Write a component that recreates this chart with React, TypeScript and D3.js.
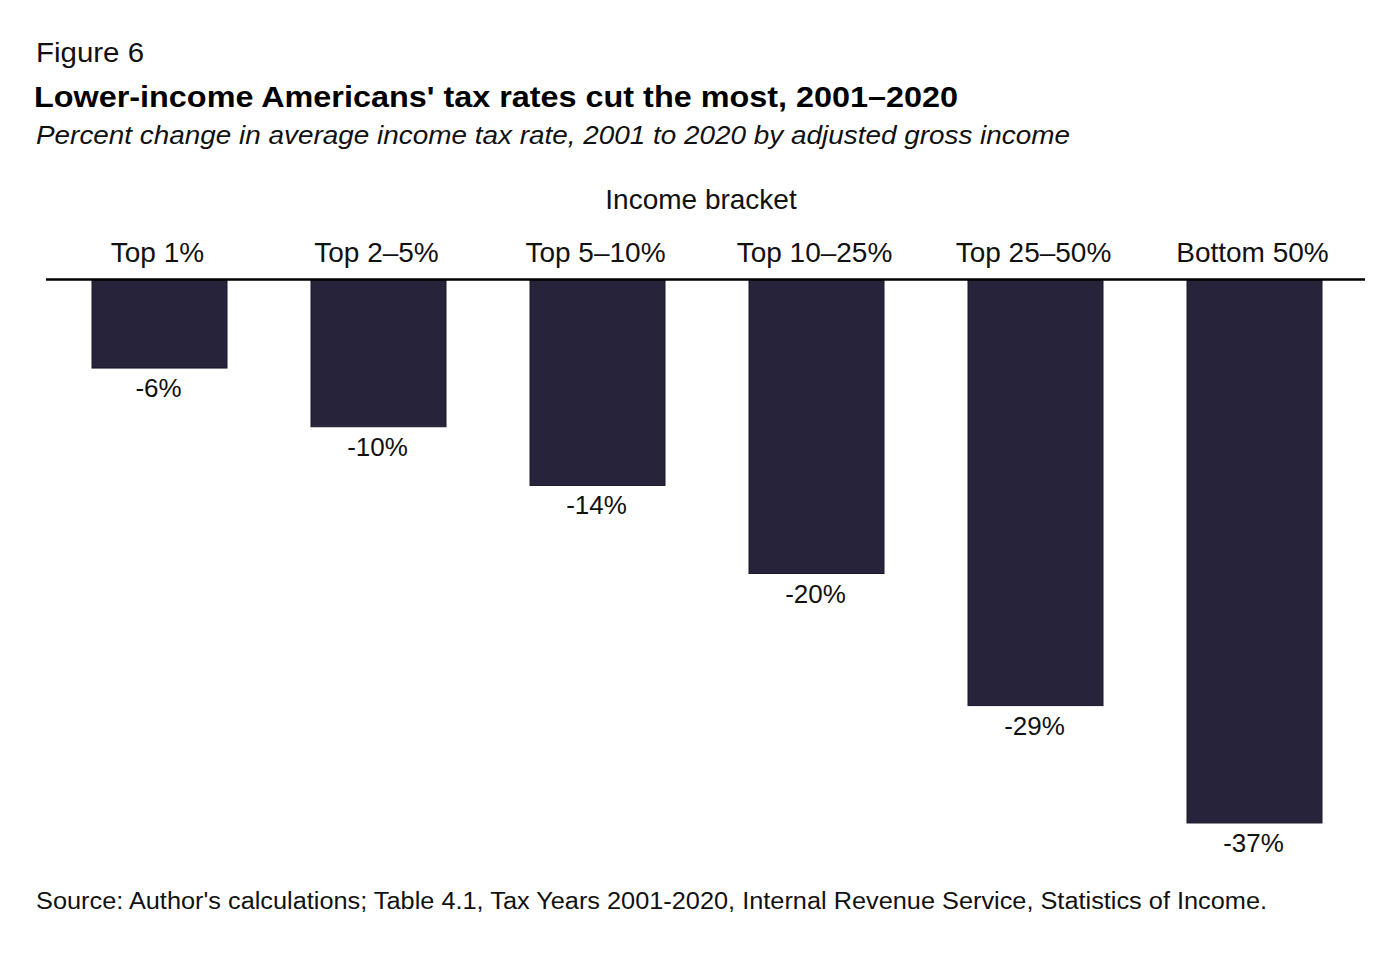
import React from "react";
import * as d3 from "d3";

const categories = ["Top 1%", "Top 2–5%", "Top 5–10%", "Top 10–25%", "Top 25–50%", "Bottom 50%"];
const values = [-6, -10, -14, -20, -29, -37];
const valueLabels = ["-6%", "-10%", "-14%", "-20%", "-29%", "-37%"];

const W = 1400;
const H = 957;
const FONT = "'Liberation Sans', Arial, sans-serif";
const BAR = "#26233a";

export default function App() {
  const x = d3
    .scaleBand<string>()
    .domain(categories)
    .range([50, 1364])
    .paddingInner(0.3836)
    .paddingOuter(0.1918);
  const y = d3.scaleLinear().domain([0, -40]).range([280, 867]);

  return (
    <svg
      width={W}
      height={H}
      style={{ position: "absolute", left: 0, top: 0, background: "#fff" }}
      fontFamily={FONT}
    >
      <rect x={0} y={0} width={W} height={H} fill="#fff" />
      <text x={36} y={62} fontSize={28} fill="#111" textLength={108} lengthAdjust="spacingAndGlyphs">Figure 6</text>
      <text x={34} y={107} fontSize={29} fontWeight="bold" fill="#000" textLength={924} lengthAdjust="spacingAndGlyphs">
        Lower-income Americans' tax rates cut the most, 2001–2020
      </text>
      <text x={36} y={144} fontSize={25} fontStyle="italic" fill="#111" textLength={1034} lengthAdjust="spacingAndGlyphs">
        Percent change in average income tax rate, 2001 to 2020 by adjusted gross income
      </text>
      <text x={701} y={209} fontSize={28} textAnchor="middle" fill="#111">Income bracket</text>

      {categories.map((c, i) => {
        const v = values[i];
        const bx = x(c)!;
        const bw = x.bandwidth();
        const y0 = y(0);
        const y1 = y(v);
        return (
          <g key={c}>
            <text x={bx + bw / 2 - 2} y={262} fontSize={28} textAnchor="middle" fill="#111">{c}</text>
            <rect x={bx} y={y0} width={bw} height={y1 - y0} fill={BAR} stroke="#1a1828" strokeWidth={1} />
            <text x={bx + bw / 2 - 1} y={y1 + 29} fontSize={26} textAnchor="middle" fill="#111">{valueLabels[i]}</text>
          </g>
        );
      })}

      <line x1={46} x2={1365} y1={279.5} y2={279.5} stroke="#000" strokeWidth={2.5} />

      <text x={36} y={909} fontSize={23} fill="#111" textLength={1231} lengthAdjust="spacingAndGlyphs">
        Source: Author's calculations; Table 4.1, Tax Years 2001-2020, Internal Revenue Service, Statistics of Income.
      </text>
    </svg>
  );
}
